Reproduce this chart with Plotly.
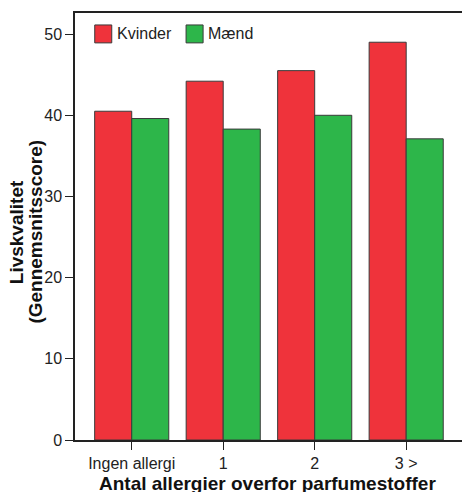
import plotly.graph_objects as go

categories = ["Ingen allergi", "1", "2", "3 >"]
kvinder = [40.5, 44.2, 45.5, 49.0]
maend = [39.6, 38.3, 40.0, 37.1]
series_names = ["Kvinder", "Mænd"]
colors = ["#EF333B", "#2DB64A"]
y_ticks = [0, 10, 20, 30, 40, 50]

FONT = "Liberation Sans, Arial, sans-serif"

fig = go.Figure()
for name, vals, col in zip(series_names, [kvinder, maend], colors):
    fig.add_trace(go.Bar(
        x=categories, y=vals, name=name,
        marker=dict(color=col, line=dict(color="#3a3a3a", width=1)),
        showlegend=False,
    ))

# custom legend (boxes + text)
leg_boxes = [(0.051, 0.095), (0.287, 0.331)]
leg_text_x = [0.104, 0.339]
for (x0, x1), tx, name, col in zip(leg_boxes, leg_text_x, series_names, colors):
    fig.add_shape(type="rect", xref="paper", yref="paper",
                  x0=x0, x1=x1, y0=0.930, y1=0.972,
                  fillcolor=col, line=dict(color="#3a3a3a", width=1))
    fig.add_annotation(xref="paper", yref="paper", x=tx, y=0.951,
                       text=name, showarrow=False, xanchor="left", yanchor="middle",
                       font=dict(family=FONT, size=16, color="#222"))

# axis titles as annotations
fig.add_annotation(xref="paper", yref="paper", x=0.497, y=-0.103,
                   text="<b>Antal allergier overfor parfumestoffer</b>",
                   showarrow=False, xanchor="center", yanchor="middle",
                   font=dict(family=FONT, size=19, color="#111"))
fig.add_annotation(xref="paper", yref="paper", x=-0.152, y=0.487,
                   text="<b>Livskvalitet</b>", textangle=-90,
                   showarrow=False, xanchor="center", yanchor="middle",
                   font=dict(family=FONT, size=19, color="#111"))
fig.add_annotation(xref="paper", yref="paper", x=-0.102, y=0.487,
                   text="<b>(Gennemsnitsscore)</b>", textangle=-90,
                   showarrow=False, xanchor="center", yanchor="middle",
                   font=dict(family=FONT, size=19, color="#111"))

fig.update_layout(
    width=462, height=492,
    margin=dict(l=75, r=0, t=13, b=52),
    paper_bgcolor="white", plot_bgcolor="white",
    barmode="group", bargap=0.19, bargroupgap=0,
    font=dict(family=FONT, size=16, color="#222"),
    xaxis=dict(
        range=[-0.62, 3.61], showline=True, linecolor="#222", linewidth=1.5,
        mirror=True, ticks="outside", ticklen=8, tickcolor="#222", tickwidth=1.2,
        showgrid=False, zeroline=False, automargin=False,
        tickfont=dict(family=FONT, size=16, color="#222"),
    ),
    yaxis=dict(
        range=[0, 52.6], showline=True, linecolor="#222", linewidth=1.5,
        ticks="outside", ticklen=8, tickcolor="#222", tickwidth=1.2,
        tickvals=y_ticks, showgrid=False, zeroline=False, automargin=False,
        tickfont=dict(family=FONT, size=16, color="#222"),
    ),
)

fig.write_html("out.html", config={"displayModeBar": False},
               post_script="document.body.style.margin='0';")
